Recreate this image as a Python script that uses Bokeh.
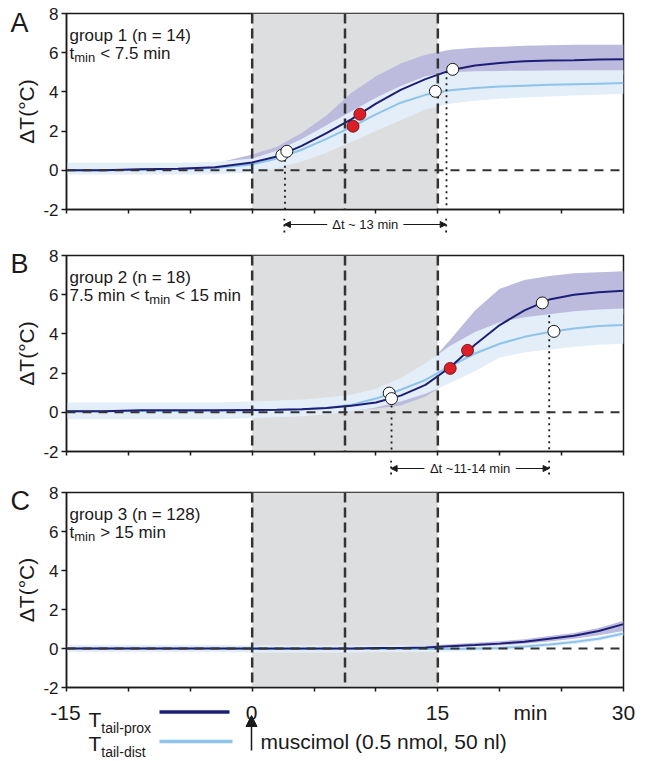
import math
from bokeh.plotting import figure
from bokeh.layouts import column, row
from bokeh.models import (ColumnDataSource, Label, Arrow, NormalHead, Span,
                          BoxAnnotation, FixedTicker, Range1d)
from bokeh.core.properties import value
from bokeh.embed import file_html
from bokeh.resources import INLINE

# ---------------- data ----------------
t_min = [-15, -12, -9, -6, -3, 0, 2, 4, 6, 8, 10, 12, 14, 16, 18, 20, 22, 24, 26, 28, 30]

a_prox    = [0.0, 0.0, 0.05, 0.08, 0.15, 0.4, 0.7, 1.25, 1.9, 2.6, 3.4, 4.1, 4.65, 5.1, 5.35, 5.48, 5.56, 5.6, 5.62, 5.65, 5.66]
a_prox_hi = [0.12, 0.12, 0.15, 0.22, 0.35, 0.8, 1.2, 1.9, 2.8, 3.95, 4.8, 5.45, 5.9, 6.15, 6.25, 6.3, 6.35, 6.38, 6.4, 6.4, 6.4]
a_prox_lo = [-0.1, -0.1, -0.05, -0.02, 0.02, 0.15, 0.35, 0.8, 1.4, 2.0, 2.6, 3.3, 3.9, 4.4, 4.6, 4.7, 4.75, 4.8, 4.85, 4.85, 4.9]
a_dist    = [0.0, 0.0, 0.03, 0.06, 0.12, 0.3, 0.6, 1.05, 1.6, 2.2, 2.85, 3.45, 3.85, 4.08, 4.2, 4.27, 4.32, 4.36, 4.39, 4.42, 4.45]
a_dist_hi = [0.38, 0.38, 0.38, 0.38, 0.42, 0.6, 1.0, 1.6, 2.3, 3.0, 3.7, 4.3, 4.8, 5.0, 5.05, 5.07, 5.08, 5.09, 5.1, 5.1, 5.1]
a_dist_lo = [-0.22, -0.22, -0.22, -0.22, -0.2, -0.1, 0.1, 0.45, 0.9, 1.45, 2.0, 2.55, 3.1, 3.4, 3.55, 3.65, 3.72, 3.77, 3.82, 3.86, 3.9]
a_open_t = [2.4, 2.8, 14.8, 16.2]
a_open_v = [0.77, 0.97, 4.03, 5.15]
a_red_t = [8.7, 8.15]
a_red_v = [2.86, 2.25]
a_dt_t = [2.65, 15.7]
a_dt_top = [0.85, 5.05]
a_dt_text = "\u0394t ~ 13 min"

b_prox    = [0.05, 0.05, 0.1, 0.1, 0.1, 0.12, 0.13, 0.16, 0.22, 0.33, 0.5, 0.85, 1.4, 2.3, 3.45, 4.45, 5.2, 5.75, 6.0, 6.12, 6.2]
b_prox_hi = [0.2, 0.2, 0.25, 0.25, 0.25, 0.27, 0.3, 0.35, 0.45, 0.6, 0.85, 1.4, 2.3, 3.7, 5.2, 6.3, 6.75, 6.95, 7.1, 7.15, 7.2]
b_prox_lo = [-0.1, -0.1, -0.05, -0.05, -0.05, -0.05, -0.05, 0.0, 0.05, 0.1, 0.2, 0.35, 0.8, 1.6, 2.6, 3.5, 4.2, 4.6, 4.8, 4.9, 5.0]
b_dist    = [0.05, 0.05, 0.06, 0.07, 0.08, 0.1, 0.12, 0.15, 0.22, 0.38, 0.7, 1.15, 1.65, 2.35, 3.0, 3.5, 3.85, 4.1, 4.28, 4.4, 4.45]
b_dist_hi = [0.5, 0.5, 0.5, 0.5, 0.5, 0.55, 0.6, 0.65, 0.75, 0.9, 1.2, 1.75, 2.5, 3.4, 4.1, 4.6, 4.85, 5.0, 5.15, 5.25, 5.3]
b_dist_lo = [-0.35, -0.35, -0.35, -0.35, -0.35, -0.3, -0.25, -0.2, -0.1, 0.05, 0.25, 0.55, 0.95, 1.5, 2.1, 2.8, 3.05, 3.2, 3.35, 3.45, 3.5]
b_open_t = [11.07, 11.26, 23.44, 24.38]
b_open_v = [0.98, 0.70, 5.58, 4.13]
b_red_t = [17.4, 16.0]
b_red_v = [3.16, 2.24]
b_dt_t = [11.26, 24.0]
b_dt_top = [0.65, 4.95]
b_dt_text = "\u0394t ~11-14 min"

c_prox    = [0.0, 0.0, 0.0, 0.0, 0.0, 0.0, 0.0, 0.0, 0.0, 0.0, 0.02, 0.03, 0.05, 0.12, 0.18, 0.25, 0.35, 0.5, 0.65, 0.9, 1.25]
c_prox_hi = [0.08, 0.08, 0.08, 0.08, 0.08, 0.08, 0.08, 0.08, 0.08, 0.08, 0.1, 0.12, 0.14, 0.22, 0.29, 0.37, 0.48, 0.64, 0.8, 1.05, 1.42]
c_prox_lo = [-0.06, -0.06, -0.06, -0.06, -0.06, -0.06, -0.06, -0.06, -0.06, -0.06, -0.04, -0.03, -0.01, 0.04, 0.09, 0.15, 0.24, 0.36, 0.5, 0.68, 0.9]
c_dist    = [0.0, 0.0, 0.0, 0.0, 0.0, -0.02, -0.02, -0.02, -0.02, -0.02, -0.02, -0.02, -0.02, -0.03, 0.0, 0.03, 0.1, 0.2, 0.33, 0.5, 0.77]
c_dist_hi = [0.18, 0.18, 0.18, 0.18, 0.18, 0.16, 0.16, 0.16, 0.16, 0.16, 0.15, 0.15, 0.15, 0.12, 0.14, 0.15, 0.2, 0.3, 0.43, 0.6, 0.88]
c_dist_lo = [-0.18, -0.18, -0.18, -0.18, -0.18, -0.2, -0.2, -0.2, -0.2, -0.2, -0.18, -0.18, -0.18, -0.15, -0.12, -0.08, 0.0, 0.1, 0.23, 0.4, 0.65]

phase_marks = [0, 7.5, 15]          # muscimol infusion window and its midpoint
inject_t = 0
x_ticks = [-15, -10, -5, 0, 5, 10, 15, 20, 25, 30]
x_tick_labels = {-15: "-15", 0: "0", 15: "15", 30: "30"}
x_unit_label = ("min", 22.5)
y_ticks = [-2, 0, 2, 4, 6, 8]
y_tick_labels = {v: str(v) for v in y_ticks}

# ---------------- styling / layout ----------------
FONT = "Liberation Sans"
NAVY = "#1e1e78"
LIGHT = "#8ec4ea"
PURPLE_BAND = "#bcbbde"
LIGHT_BAND = "#e3eef9"
GRAY = "#dddee0"
RED = "#dc1f26"
INK = "#1a1a1a"
DASH = "#333333"

AX_BORDER = 25          # tick + tick labels
FRAME_L = 65            # page x of the plot frames' left edge
LEFT_COL = FRAME_L - AX_BORDER   # column for panel letter and y-axis title
BORDER_R = 20
FW = 558
TOTAL_W = FRAME_L + FW + BORDER_R
PPX = FW / (x_ticks[-1] - x_ticks[0])
BOTTOM_BORDER = 9

ARIAL = {' ': 278, '(': 333, ')': 333, '-': 333, '.': 278, ',': 278, '<': 584, '>': 584,
         '=': 584, '~': 584, 'T': 611, 'a': 556, 'd': 556, 'e': 556, 'g': 556, 'i': 222,
         'l': 222, 'm': 833, 'n': 556, 'o': 556, 'p': 556, 'r': 333, 's': 500, 't': 278,
         'u': 556, 'x': 500, 'c': 500, '\u0394': 668}


def tw(s, size):
    return sum(ARIAL.get(c, 556) for c in s) / 1000.0 * size


def px2x(page_px):
    return x_ticks[0] + (page_px - FRAME_L) / PPX


def no_align(p):
    try:
        p.frame_align = False
    except Exception:
        pass


def lab(p, x, y, text, size, xo=0, yo=0, align="left", baseline="alphabetic"):
    p.add_layout(Label(x=x, y=y, x_offset=xo, y_offset=yo, text=text, text_font=FONT,
                       text_font_size=f"{size}px", text_align=align,
                       text_baseline=baseline, text_color=INK))


def rich(p, x, y, xo, yo, pieces):
    cur = xo
    for t, size, dy, gap in pieces:
        cur += gap
        lab(p, x, y, t, size, xo=cur, yo=yo + dy)
        cur += tw(t, size)


def txt(p, xs, ys, texts, size, align="left", baseline="alphabetic", angle=0.0):
    p.text(x=xs, y=ys, text=texts, text_font=value(FONT), text_font_size=value(f"{size}px"),
           text_align=align, text_baseline=baseline, text_color=INK, angle=angle)


def blank(width, height, x_range, y_range, left=0, right=0):
    p = figure(width=width, height=height, x_range=x_range, y_range=y_range,
               output_backend="svg", toolbar_location=None,
               x_axis_location=None, y_axis_location=None,
               min_border_left=left, min_border_right=right,
               min_border_top=0, min_border_bottom=0)
    p.xgrid.visible = False
    p.ygrid.visible = False
    p.outline_line_color = None
    p.background_fill_color = "white"
    p.border_fill_color = "white"
    no_align(p)
    return p


x_range = Range1d(x_ticks[0], x_ticks[-1])


def make_panel(prox, prox_lo, prox_hi, dist, dist_lo, dist_hi, fh, top, title_lines,
               open_t=None, open_v=None, red_t=None, red_v=None):
    bottom = BOTTOM_BORDER
    p = figure(width=TOTAL_W - LEFT_COL, height=top + fh + bottom, x_range=x_range,
               y_range=Range1d(y_ticks[0], y_ticks[-1]),
               output_backend="svg", toolbar_location=None,
               min_border_left=AX_BORDER, min_border_right=BORDER_R,
               min_border_top=top, min_border_bottom=bottom)
    no_align(p)
    p.xgrid.visible = False
    p.ygrid.visible = False
    p.outline_line_color = INK
    p.outline_line_width = 1.5
    p.background_fill_color = "white"
    p.border_fill_color = "white"

    p.add_layout(BoxAnnotation(left=phase_marks[0], right=phase_marks[-1], fill_color=GRAY,
                               fill_alpha=1.0, line_color=None, level="underlay"))

    src = ColumnDataSource(dict(t=t_min, prox=prox, prox_lo=prox_lo, prox_hi=prox_hi,
                                dist=dist, dist_lo=dist_lo, dist_hi=dist_hi))
    p.varea(x="t", y1="prox_lo", y2="prox_hi", source=src, fill_color=PURPLE_BAND)
    p.varea(x="t", y1="dist_lo", y2="dist_hi", source=src, fill_color=LIGHT_BAND)
    p.line(x="t", y="dist", source=src, line_color=LIGHT, line_width=2)
    p.line(x="t", y="prox", source=src, line_color=NAVY, line_width=2)

    for m in phase_marks:
        p.add_layout(Span(location=m, dimension="height", line_color=DASH, line_width=2.5,
                          line_dash="10 5"))
    p.add_layout(Span(location=0, dimension="width", line_color=DASH, line_width=2,
                      line_dash="9 7"))

    if open_t is not None:
        p.scatter(x=open_t, y=open_v, size=12, fill_color="white", line_color=INK,
                  line_width=1, level="overlay")
    if red_t is not None:
        p.scatter(x=red_t, y=red_v, size=12, fill_color=RED, line_color="#5a0f10",
                  line_width=0.8, level="overlay")

    ya = p.yaxis[0]
    ya.ticker = FixedTicker(ticks=y_ticks)
    ya.major_label_overrides = y_tick_labels
    ya.major_label_text_font = FONT
    ya.major_label_text_font_size = "17px"
    ya.major_label_text_color = INK
    ya.major_label_standoff = 3
    ya.major_tick_out = 5
    ya.major_tick_in = 0
    ya.minor_tick_line_color = None
    ya.axis_line_width = 1.5
    ya.axis_line_color = INK
    ya.major_tick_line_width = 1.5
    ya.major_tick_line_color = INK

    xa = p.xaxis[0]
    xa.ticker = FixedTicker(ticks=x_ticks)
    xa.major_tick_out = 4
    xa.major_tick_in = 0
    xa.minor_tick_line_color = None
    xa.axis_line_width = 1.5
    xa.axis_line_color = INK
    xa.major_tick_line_width = 1.5
    xa.major_tick_line_color = INK
    xa.major_label_overrides = {t: "" for t in x_ticks}
    xa.major_label_text_font_size = "0px"
    xa.major_label_standoff = 0

    lab(p, x_ticks[0], y_ticks[-1], title_lines[0], 17, xo=3, yo=-22)
    rich(p, x_ticks[0], y_ticks[-1], 3, -40, title_lines[1])
    return p, top, fh, bottom


def left_column(letter, top, fh, bottom, letter_dy):
    h = top + fh + bottom
    p = blank(LEFT_COL, h, Range1d(0, LEFT_COL), Range1d(0, h))
    txt(p, [10], [h + letter_dy], [letter], 27, baseline="top")
    txt(p, [26], [h - top - fh / 2], ["\u0394T(\u00b0C)"], 21, align="center",
        baseline="middle", angle=math.pi / 2)
    return p


def dt_strip(height, marks, text, arrow_px, end_px):
    p = blank(TOTAL_W, height, x_range, Range1d(-height, 0), left=FRAME_L, right=BORDER_R)
    p.segment(x0=marks, y0=[0] * len(marks), x1=marks, y1=[-end_px] * len(marks),
              line_dash="2 4", line_width=1.8, line_color=INK)
    xmid = (marks[0] + marks[1]) / 2
    half = (tw(text, 13) / 2 + 5) / PPX
    for xs, xe in ((xmid - half, marks[0]), (xmid + half, marks[1])):
        p.add_layout(Arrow(x_start=xs, y_start=-arrow_px, x_end=xe, y_end=-arrow_px,
                           end=NormalHead(size=6, fill_color=INK, line_color=INK, line_width=1),
                           line_width=1, line_color=INK))
    txt(p, [xmid], [-arrow_px], [text], 13, align="center", baseline="middle")
    return p


def add_dt_lines(p, marks, tops):
    p.segment(x0=marks, y0=tops, x1=marks, y1=[y_ticks[0]] * len(marks),
              line_dash="2 4", line_width=1.8, line_color=INK)


# ---- panel A ----  (frame: page y 13..209)
pA, tA, fA, bA = make_panel(a_prox, a_prox_lo, a_prox_hi, a_dist, a_dist_lo, a_dist_hi, 196, 13,
                            ["group 1 (n = 14)",
                             [("t", 17, 0, 0), ("min", 13, -4, 0), ("< 7.5 min", 17, 0, 5)]],
                            a_open_t, a_open_v, a_red_t, a_red_v)
add_dt_lines(pA, a_dt_t, a_dt_top)
lA = left_column("A", tA, fA, bA, -7)
sA = dt_strip(248 - (209 + BOTTOM_BORDER), a_dt_t, a_dt_text, 15 - BOTTOM_BORDER, 24 - BOTTOM_BORDER)

# ---- panel B ----  (frame: page y 255..451)
pB, tB, fB, bB = make_panel(b_prox, b_prox_lo, b_prox_hi, b_dist, b_dist_lo, b_dist_hi, 196, 7,
                            ["group 2 (n = 18)",
                             [("7.5 min < t", 17, 0, 0), ("min", 13, -4, 0), ("< 15 min", 17, 0, 5)]],
                            b_open_t, b_open_v, b_red_t, b_red_v)
add_dt_lines(pB, b_dt_t, b_dt_top)
lB = left_column("B", tB, fB, bB, 0)
sB = dt_strip(485 - (451 + BOTTOM_BORDER), b_dt_t, b_dt_text, 17 - BOTTOM_BORDER, 24 - BOTTOM_BORDER)

# ---- panel C ----  (frame: page y 492..687)
pC, tC, fC, bC = make_panel(c_prox, c_prox_lo, c_prox_hi, c_dist, c_dist_lo, c_dist_hi, 195, 7,
                            ["group 3 (n = 128)",
                             [("t", 17, 0, 0), ("min", 13, -4, 0), ("> 15 min", 17, 0, 5)]])
lC = left_column("C", tC, fC, bC, 0)

# ---- bottom: time labels, legend, injection marker ----
BOT_TOP = 687 + BOTTOM_BORDER
BH = 760 - BOT_TOP


def yb(page_y):
    return -(page_y - BOT_TOP)


bot = blank(TOTAL_W, BH,
            Range1d(x_ticks[0] - FRAME_L / PPX, x_ticks[-1] + BORDER_R / PPX),
            Range1d(-BH, 0))
lab_t = [t for t in x_ticks if t in x_tick_labels]
txt(bot, lab_t, [yb(712)] * len(lab_t), [x_tick_labels[t] for t in lab_t], 21, align="center")
txt(bot, [x_unit_label[1]], [yb(712)], [x_unit_label[0]], 21, align="center")

for name, col, y_line, y_T, x_end in (("tail-prox", NAVY, 711.5, 719, 229),
                                      ("tail-dist", LIGHT, 741, 743, 232)):
    bot.line(x=[px2x(159), px2x(x_end)], y=[yb(y_line)] * 2, line_width=3.5, line_color=col)
    txt(bot, [px2x(88)], [yb(y_T)], ["T"], 21)
    txt(bot, [px2x(88 + tw("T", 21))], [yb(y_T + 8)], [name], 14)

bot.add_layout(Arrow(x_start=inject_t, y_start=yb(750), x_end=inject_t, y_end=yb(715),
                     end=NormalHead(size=11, fill_color=INK, line_color=INK, line_width=1),
                     line_width=1.5, line_color=INK))
txt(bot, [inject_t + 9 / PPX], [yb(741)], ["muscimol (0.5 nmol, 50 nl)"], 21, baseline="middle")

layout = column(row(lA, pA), sA, row(lB, pB), sB, row(lC, pC), bot)
open("out.html", "w").write(file_html(layout, INLINE))
